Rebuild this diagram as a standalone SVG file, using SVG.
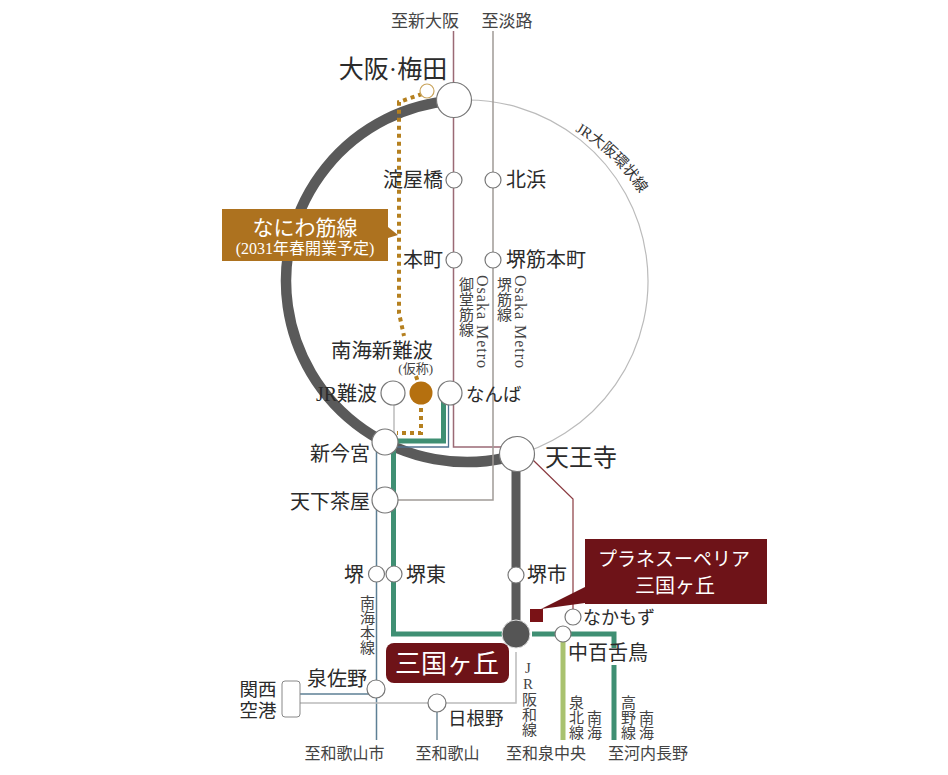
<svg xmlns="http://www.w3.org/2000/svg" width="948" height="775" viewBox="0 0 948 775">
<style>
text{font-family:"Liberation Serif","Noto Sans CJK JP",serif;fill:#2b2b2b;font-size:20px}
.m{text-anchor:middle}
.e{text-anchor:end}
.d{font-size:16px;fill:#444;text-anchor:middle}
.v{font-size:15px;fill:#444;writing-mode:vertical-rl;text-orientation:upright}
.o{font-size:16px;letter-spacing:1px;fill:#444}
.w{fill:#fff}
.st{fill:#fff;stroke:#777;stroke-width:1.2}
.l{fill:none}
</style>
<rect width="948" height="775" fill="#fff"/>
<defs><path id="ringtext" d="M575 131A190 190 0 0 1 646 204"/></defs>
<g id="connectors" class="l">
<path d="M505 458A181 181 0 0 0 454 100.500" stroke="#bbb" stroke-width="1.2"/>
<path d="M454 100.500A181 181 0 1 0 505 458" stroke="#5a5a5a" stroke-width="10.500"/>
<path d="M453.500 31V447H517" stroke="#9b6a75" stroke-width="1.500"/>
<path d="M533 460L573 499V610" stroke="#8a3a40" stroke-width="1.200"/>
<path d="M493 31V500H395" stroke="#a09a96" stroke-width="1.500"/>
<path d="M394 400V433" stroke="#aaa" stroke-width="1.200"/>
<path d="M448.500 400V447H390" stroke="#4f7190" stroke-width="1.300"/>
<path d="M376.500 443V740" stroke="#5d7f95" stroke-width="1.500"/>
<path d="M300 694H370" stroke="#5d7f95" stroke-width="1.500"/>
<path d="M437 703V740" stroke="#708a99" stroke-width="1.500"/>
<path d="M300 703H516V652" stroke="#bbb" stroke-width="1.500"/>
<path d="M443.500 400V441H390" stroke="#3f8f73" stroke-width="5"/>
<path d="M393.500 450V634H502" stroke="#3f8f73" stroke-width="5"/>
<path d="M532 634H614V648M614 665V740" stroke="#3f8f73" stroke-width="5"/>
<path d="M563 640V740" stroke="#a9c26f" stroke-width="5"/>
<path d="M516 470V625" stroke="#5a5a5a" stroke-width="9"/>
<path d="M422 94L399 102V313L404 336M416 376L418 382M421 408V433H397" stroke="#b5801f" stroke-width="4" stroke-dasharray="4 4"/>
</g>
<g id="ring-label"><text style="font-size:15px;fill:#333"><textPath href="#ringtext">JR大阪環状線</textPath></text></g>
<g id="umeda"><circle class="st" cx="454" cy="100" r="17.500"/><text x="393" y="78" class="m" style="font-size:25px">大阪·梅田</text></g>
<g id="umeda-naniwa"><circle cx="427" cy="91" r="7" fill="#fff" stroke="#c9a45c" stroke-width="1.200"/></g>
<g id="to-shinosaka"><text x="425" y="27" class="m" style="font-size:17px;fill:#444">至新大阪</text></g>
<g id="to-awaji"><text x="507" y="27" class="m" style="font-size:17px;fill:#444">至淡路</text></g>
<g id="yodoyabashi"><circle class="st" cx="454" cy="180" r="8"/><text x="443" y="187" class="e">淀屋橋</text></g>
<g id="kitahama"><circle class="st" cx="493" cy="180" r="8"/><text x="506" y="187">北浜</text></g>
<g id="honmachi"><circle class="st" cx="454" cy="260" r="8"/><text x="443" y="267" class="e">本町</text></g>
<g id="sakaisuji"><circle class="st" cx="493" cy="260" r="8"/><text x="506" y="267">堺筋本町</text></g>
<g id="naniwa-label"><path d="M388 227L398 235L388 238Z" fill="#ad721f"/><rect x="222" y="209" width="166" height="52" fill="#ad721f"/><text class="m" style="fill:#fff"><tspan x="305" y="235" style="font-size:21px">なにわ筋線</tspan><tspan x="305" y="254" style="font-size:16px">(2031年春開業予定)</tspan></text></g>
<g id="midosuji-label"><text class="o" transform="translate(477 275) rotate(90)">Osaka Metro</text><text x="465" y="277" class="v">御堂筋線</text></g>
<g id="sakaisuji-label"><text class="o" transform="translate(515 275) rotate(90)">Osaka Metro</text><text x="503" y="277" class="v">堺筋線</text></g>
<g id="nankai-namba"><circle cx="421" cy="393" r="11.500" fill="#b5700f"/><text class="e"><tspan x="433" y="358" style="font-size:20.400px">南海新難波</tspan><tspan x="433" y="373" style="font-size:13px;fill:#444">(仮称)</tspan></text></g>
<g id="jr-namba"><circle class="st" cx="393" cy="393" r="12"/><text x="377" y="401" class="e">JR難波</text></g>
<g id="namba"><circle class="st" cx="450" cy="393" r="12"/><text x="466" y="401" style="font-size:18.500px">なんば</text></g>
<g id="shinimamiya"><circle class="st" cx="385" cy="442" r="13"/><text x="370" y="461" class="e">新今宮</text></g>
<g id="tennoji"><circle class="st" cx="517" cy="454" r="17.500"/><text x="545" y="466" style="font-size:24px">天王寺</text></g>
<g id="tengachaya"><circle class="st" cx="385" cy="500" r="13"/><text x="370" y="509" class="e">天下茶屋</text></g>
<g id="sakai"><circle class="st" cx="376.500" cy="574" r="8"/><text x="364" y="582" class="e">堺</text></g>
<g id="sakaihigashi"><circle class="st" cx="394" cy="574" r="8"/><text x="406" y="582">堺東</text></g>
<g id="sakaishi"><circle class="st" cx="516" cy="575" r="8"/><text x="527" y="582">堺市</text></g>
<g id="nankai-main-label"><text x="366" y="595" class="v">南海本線</text></g>
<g id="mikunigaoka"><circle cx="516" cy="634" r="14" fill="#555" stroke="#ddd" stroke-width="1"/><rect x="386" y="643" width="123" height="40" rx="8" fill="#6e1318"/><text x="447" y="673" class="m" style="font-size:26px;fill:#fff">三国ヶ丘</text></g>
<g id="property"><path d="M541 609L585 587V603Z" fill="#6e1318"/><rect x="530" y="609" width="13" height="13" fill="#7a1216"/><rect x="585" y="539" width="182" height="65" fill="#6e1318"/><text class="m" style="font-size:19px;fill:#fff"><tspan x="674" y="566">プラネスーペリア</tspan><tspan x="675" y="593" style="font-size:20px">三国ヶ丘</tspan></text></g>
<g id="nakamozu-subway"><circle class="st" cx="573" cy="617" r="8"/><text x="583" y="624" style="font-size:18px">なかもず</text></g>
<g id="nakamozu"><circle class="st" cx="563" cy="634" r="8"/><text x="568" y="660">中百舌鳥</text></g>
<g id="izumisano"><circle class="st" cx="376" cy="689" r="9"/><text x="307" y="686">泉佐野</text></g>
<g id="hineno"><circle class="st" cx="437" cy="703" r="9"/><text x="448" y="725" style="font-size:18.500px">日根野</text></g>
<g id="kanku"><rect x="282" y="681" width="18" height="36" rx="3" fill="#fff" stroke="#888"/><text class="m" style="font-size:18.500px"><tspan x="258" y="696">関西</tspan><tspan x="258" y="717">空港</tspan></text></g>
<g id="hanwa-label"><text x="528" y="660" class="v">JR阪和線</text></g>
<g id="senboku-label"><text x="575" y="695" class="v">泉北線</text><text x="593" y="710" class="v">南海</text></g>
<g id="koya-label"><text x="627" y="695" class="v">高野線</text><text x="645" y="710" class="v">南海</text></g>
<g id="dest-labels"><text x="344.500" y="759" class="d">至和歌山市</text><text x="447.500" y="759" class="d">至和歌山</text><text x="546" y="759" class="d">至和泉中央</text><text x="648" y="759" class="d">至河内長野</text></g>
</svg>
